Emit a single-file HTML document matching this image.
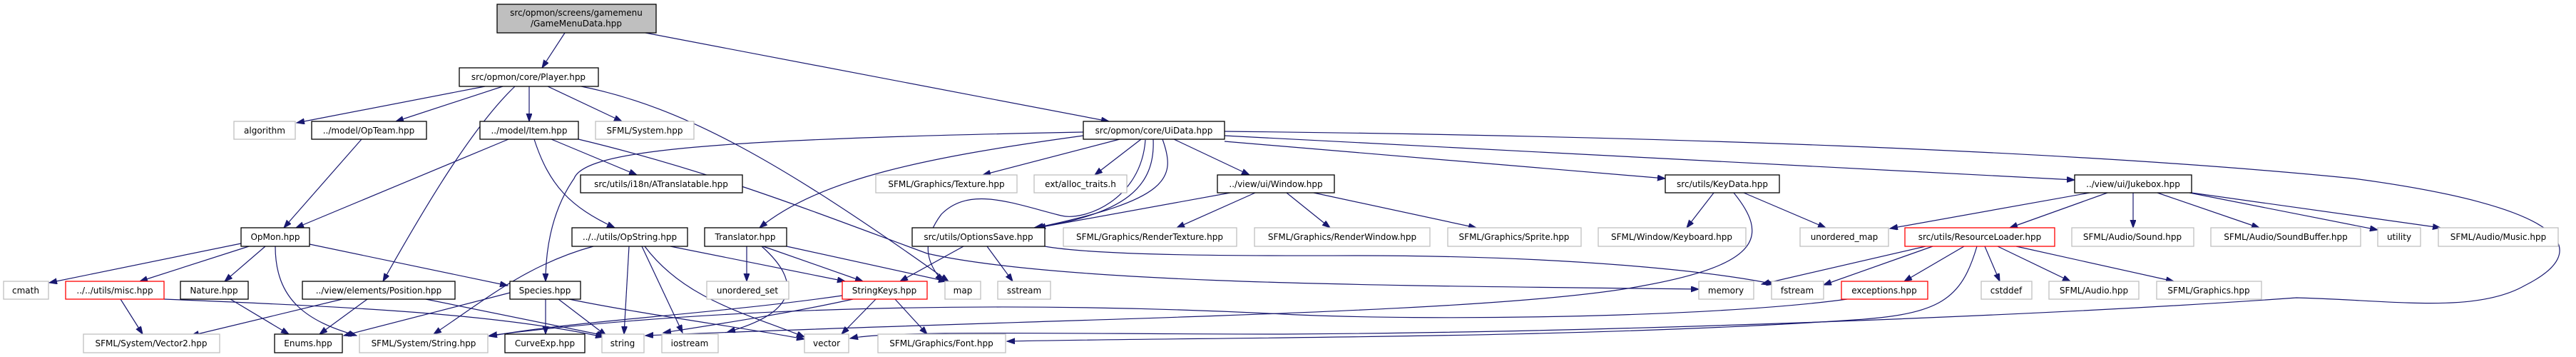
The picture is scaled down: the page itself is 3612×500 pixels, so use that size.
<!DOCTYPE html>
<html><head><meta charset="utf-8"><style>
html,body{margin:0;padding:0;background:#fff;}
svg{display:block;}
text{font-family:"DejaVu Sans","Liberation Sans",sans-serif;font-size:12px;fill:#000;}
.g{fill:#fff;stroke:#bfbfbf;stroke-width:1.3}
.b{fill:#fff;stroke:#000;stroke-width:1.3}
.r{fill:#fff;stroke:#ff0000;stroke-width:1.3}
path.e{fill:none;stroke:#191970;stroke-width:1.2;marker-end:url(#a)}
</style></head><body>
<svg width="3612" height="500" viewBox="0 0 3612 500" xmlns="http://www.w3.org/2000/svg">
<defs><marker id="a" markerUnits="userSpaceOnUse" markerWidth="12" markerHeight="10" refX="11" refY="4" orient="auto"><path d="M0,0 L11,4 L0,8 z" fill="#191970" stroke="#191970"/></marker></defs>
<g>
<path class="e" d="M792 46 L760 95"/>
<path class="e" d="M905 46 L1555 170"/>
<path class="e" d="M680 121 L416 172"/>
<path class="e" d="M705 121 L555 170"/>
<path class="e" d="M742 121 L742 170"/>
<path class="e" d="M768 121 L872 170"/>
<path class="e" d="M722 121 C660 180, 590 300, 537 394"/>
<path class="e" d="M815 121 C960 150, 1100 230, 1330 394"/>
<path class="e" d="M507 195 L398 319"/>
<path class="e" d="M713 195 L415 319"/>
<path class="e" d="M749 195 C770 260, 800 290, 862 319"/>
<path class="e" d="M773 195 L893 245"/>
<path class="e" d="M811 195 C1000 240, 1150 300, 1300 355 C1500 400, 2000 400, 2382 405"/>
<path class="e" d="M1519 185 C1000 195, 820 210, 805 250 C770 300, 765 360, 765 394"/>
<path class="e" d="M1519 190 C1300 220, 1150 250, 1065 319"/>
<path class="e" d="M1570 195 L1378 245"/>
<path class="e" d="M1600 195 L1535 245"/>
<path class="e" d="M1646 195 L1752 245"/>
<path class="e" d="M1617 195 C1620 260, 1580 300, 1450 319"/>
<path class="e" d="M1630 195 C1650 250, 1640 280, 1452 319"/>
<path class="e" d="M1606 196 C1600 280, 1520 310, 1488 302 C1420 285, 1360 260, 1320 300 C1290 340, 1300 370, 1322 394"/>
<path class="e" d="M1717 198 L2335 250"/>
<path class="e" d="M1717 190 L2909 252"/>
<path class="e" d="M1717 184 C2300 190, 2900 210, 3300 250 C3600 290, 3640 350, 3540 400 C3470 440, 3350 420, 3220 417 C2900 440, 2300 465, 1800 468 C1500 468, 1250 462, 1192 474"/>
<path class="e" d="M1725 270 L1455 319"/>
<path class="e" d="M1760 270 L1650 319"/>
<path class="e" d="M1804 270 L1865 319"/>
<path class="e" d="M1842 270 L2070 319"/>
<path class="e" d="M2403 270 L2365 319"/>
<path class="e" d="M2445 270 L2560 319"/>
<path class="e" d="M2431 270 C2480 330, 2470 370, 2305 400 C2100 440, 1500 445, 905 470"/>
<path class="e" d="M2930 270 L2650 320"/>
<path class="e" d="M2955 270 L2818 319"/>
<path class="e" d="M2991 270 L2991 319"/>
<path class="e" d="M3025 270 L3168 319"/>
<path class="e" d="M3070 270 L3334 322"/>
<path class="e" d="M3073 270 L3422 319"/>
<path class="e" d="M2700 345 L2470 398"/>
<path class="e" d="M2710 345 L2557 399"/>
<path class="e" d="M2754 345 L2670 394"/>
<path class="e" d="M2783 345 L2804 394"/>
<path class="e" d="M2801 345 L2903 394"/>
<path class="e" d="M2827 345 L3048 394"/>
<path class="e" d="M2772 345 C2750 420, 2720 440, 2600 448 C2200 475, 1700 472, 1412 478"/>
<path class="e" d="M2590 419 C2400 445, 2000 450, 1800 440 C1400 420, 1000 430, 686 470"/>
<path class="e" d="M1351 345 L1262 394"/>
<path class="e" d="M1384 345 L1420 394"/>
<path class="e" d="M1465 345 C1550 360, 1800 358, 1900 358 C2200 358, 2400 380, 2488 398"/>
<path class="e" d="M1047 345 L1047 394"/>
<path class="e" d="M1070 345 L1210 394"/>
<path class="e" d="M1103 345 L1327 394"/>
<path class="e" d="M1068 345 C1130 400, 1110 440, 1020 465"/>
<path class="e" d="M940 345 L1185 394"/>
<path class="e" d="M832 345 C740 370, 680 420, 608 468"/>
<path class="e" d="M882 345 L875 468"/>
<path class="e" d="M900 345 L957 466"/>
<path class="e" d="M904 345 C960 420, 1050 440, 1128 472"/>
<path class="e" d="M338 341 L69 396"/>
<path class="e" d="M349 345 L196 394"/>
<path class="e" d="M372 345 L315 394"/>
<path class="e" d="M434 342 L712 400"/>
<path class="e" d="M386 345 C386 420, 430 450, 500 470"/>
<path class="e" d="M230 419 C500 430, 700 440, 846 472"/>
<path class="e" d="M169 419 L200 468"/>
<path class="e" d="M323 419 L405 468"/>
<path class="e" d="M480 419 L268 470"/>
<path class="e" d="M515 419 L448 468"/>
<path class="e" d="M597 419 L848 470"/>
<path class="e" d="M715 410 L482 470"/>
<path class="e" d="M765 419 L765 468"/>
<path class="e" d="M783 419 L850 470"/>
<path class="e" d="M798 419 C900 440, 1050 460, 1128 475"/>
<path class="e" d="M1181 414 C1000 440, 800 450, 686 471"/>
<path class="e" d="M1196 419 C1100 440, 1000 455, 930 466"/>
<path class="e" d="M1228 419 L1180 468"/>
<path class="e" d="M1255 419 L1300 468"/>
</g>
<g>
<rect x="697" y="6" width="223" height="40" fill="#bfbfbf" stroke="#000" stroke-width="1.3"/>
<text x="808" y="22" text-anchor="middle">src/opmon/screens/gamemenu</text>
<text x="808" y="37" text-anchor="middle">/GameMenuData.hpp</text>

<rect class="b" x="644" y="95" width="195" height="26"/><text x="741" y="112" text-anchor="middle">src/opmon/core/Player.hpp</text>

<rect class="g" x="328" y="170" width="86" height="25"/><text x="371" y="187" text-anchor="middle">algorithm</text>
<rect class="b" x="437" y="170" width="161" height="25"/><text x="517" y="187" text-anchor="middle">../model/OpTeam.hpp</text>
<rect class="b" x="673" y="170" width="138" height="25"/><text x="742" y="187" text-anchor="middle">../model/Item.hpp</text>
<rect class="g" x="835" y="170" width="138" height="25"/><text x="904" y="187" text-anchor="middle">SFML/System.hpp</text>
<rect class="b" x="1519" y="170" width="198" height="25"/><text x="1618" y="187" text-anchor="middle">src/opmon/core/UiData.hpp</text>

<rect class="b" x="814" y="245" width="227" height="25"/><text x="927" y="262" text-anchor="middle">src/utils/i18n/ATranslatable.hpp</text>
<rect class="g" x="1228" y="245" width="198" height="25"/><text x="1327" y="262" text-anchor="middle">SFML/Graphics/Texture.hpp</text>
<rect class="g" x="1450" y="245" width="130" height="25"/><text x="1515" y="262" text-anchor="middle">ext/alloc_traits.h</text>
<rect class="b" x="1707" y="245" width="164" height="25"/><text x="1789" y="262" text-anchor="middle">../view/ui/Window.hpp</text>
<rect class="b" x="2335" y="245" width="160" height="25"/><text x="2415" y="262" text-anchor="middle">src/utils/KeyData.hpp</text>
<rect class="b" x="2909" y="245" width="164" height="25"/><text x="2991" y="262" text-anchor="middle">../view/ui/Jukebox.hpp</text>

<rect class="b" x="338" y="319" width="96" height="26"/><text x="386" y="336" text-anchor="middle">OpMon.hpp</text>
<rect class="b" x="802" y="319" width="162" height="26"/><text x="883" y="336" text-anchor="middle">../../utils/OpString.hpp</text>
<rect class="b" x="988" y="319" width="115" height="26"/><text x="1045" y="336" text-anchor="middle">Translator.hpp</text>
<rect class="b" x="1279" y="319" width="186" height="26"/><text x="1372" y="336" text-anchor="middle">src/utils/OptionsSave.hpp</text>
<rect class="g" x="1491" y="319" width="243" height="26"/><text x="1612" y="336" text-anchor="middle">SFML/Graphics/RenderTexture.hpp</text>
<rect class="g" x="1759" y="319" width="246" height="26"/><text x="1882" y="336" text-anchor="middle">SFML/Graphics/RenderWindow.hpp</text>
<rect class="g" x="2030" y="319" width="187" height="26"/><text x="2123" y="336" text-anchor="middle">SFML/Graphics/Sprite.hpp</text>
<rect class="g" x="2241" y="319" width="207" height="26"/><text x="2344" y="336" text-anchor="middle">SFML/Window/Keyboard.hpp</text>
<rect class="g" x="2524" y="319" width="124" height="26"/><text x="2586" y="336" text-anchor="middle">unordered_map</text>
<rect class="r" x="2671" y="319" width="210" height="26"/><text x="2776" y="336" text-anchor="middle">src/utils/ResourceLoader.hpp</text>
<rect class="g" x="2905" y="319" width="171" height="26"/><text x="2990" y="336" text-anchor="middle">SFML/Audio/Sound.hpp</text>
<rect class="g" x="3100" y="319" width="210" height="26"/><text x="3205" y="336" text-anchor="middle">SFML/Audio/SoundBuffer.hpp</text>
<rect class="g" x="3334" y="319" width="60" height="26"/><text x="3364" y="336" text-anchor="middle">utility</text>
<rect class="g" x="3419" y="319" width="168" height="26"/><text x="3503" y="336" text-anchor="middle">SFML/Audio/Music.hpp</text>

<rect class="g" x="5" y="394" width="63" height="25"/><text x="36" y="411" text-anchor="middle">cmath</text>
<rect class="r" x="92" y="394" width="138" height="25"/><text x="161" y="411" text-anchor="middle">../../utils/misc.hpp</text>
<rect class="b" x="253" y="394" width="95" height="25"/><text x="300" y="411" text-anchor="middle">Nature.hpp</text>
<rect class="b" x="424" y="394" width="214" height="25"/><text x="531" y="411" text-anchor="middle">../view/elements/Position.hpp</text>
<rect class="b" x="715" y="394" width="99" height="25"/><text x="764" y="411" text-anchor="middle">Species.hpp</text>
<rect class="g" x="991" y="394" width="115" height="25"/><text x="1048" y="411" text-anchor="middle">unordered_set</text>
<rect class="r" x="1181" y="394" width="119" height="25"/><text x="1240" y="411" text-anchor="middle">StringKeys.hpp</text>
<rect class="g" x="1325" y="394" width="50" height="25"/><text x="1350" y="411" text-anchor="middle">map</text>
<rect class="g" x="1399" y="394" width="74" height="25"/><text x="1436" y="411" text-anchor="middle">sstream</text>
<rect class="g" x="2382" y="394" width="77" height="25"/><text x="2420" y="411" text-anchor="middle">memory</text>
<rect class="g" x="2484" y="394" width="73" height="25"/><text x="2520" y="411" text-anchor="middle">fstream</text>
<rect class="r" x="2582" y="394" width="121" height="25"/><text x="2642" y="411" text-anchor="middle">exceptions.hpp</text>
<rect class="g" x="2778" y="394" width="71" height="25"/><text x="2813" y="411" text-anchor="middle">cstddef</text>
<rect class="g" x="2873" y="394" width="126" height="25"/><text x="2936" y="411" text-anchor="middle">SFML/Audio.hpp</text>
<rect class="g" x="3024" y="394" width="147" height="25"/><text x="3097" y="411" text-anchor="middle">SFML/Graphics.hpp</text>

<rect class="g" x="117" y="468" width="191" height="26"/><text x="212" y="485" text-anchor="middle">SFML/System/Vector2.hpp</text>
<rect class="b" x="385" y="468" width="95" height="26"/><text x="432" y="485" text-anchor="middle">Enums.hpp</text>
<rect class="g" x="504" y="468" width="180" height="26"/><text x="594" y="485" text-anchor="middle">SFML/System/String.hpp</text>
<rect class="b" x="708" y="468" width="112" height="26"/><text x="764" y="485" text-anchor="middle">CurveExp.hpp</text>
<rect class="g" x="844" y="468" width="59" height="26"/><text x="873" y="485" text-anchor="middle">string</text>
<rect class="g" x="928" y="468" width="79" height="26"/><text x="967" y="485" text-anchor="middle">iostream</text>
<rect class="g" x="1128" y="468" width="62" height="26"/><text x="1159" y="485" text-anchor="middle">vector</text>
<rect class="g" x="1231" y="468" width="179" height="26"/><text x="1320" y="485" text-anchor="middle">SFML/Graphics/Font.hpp</text>
</g>
</svg>
</body></html>
